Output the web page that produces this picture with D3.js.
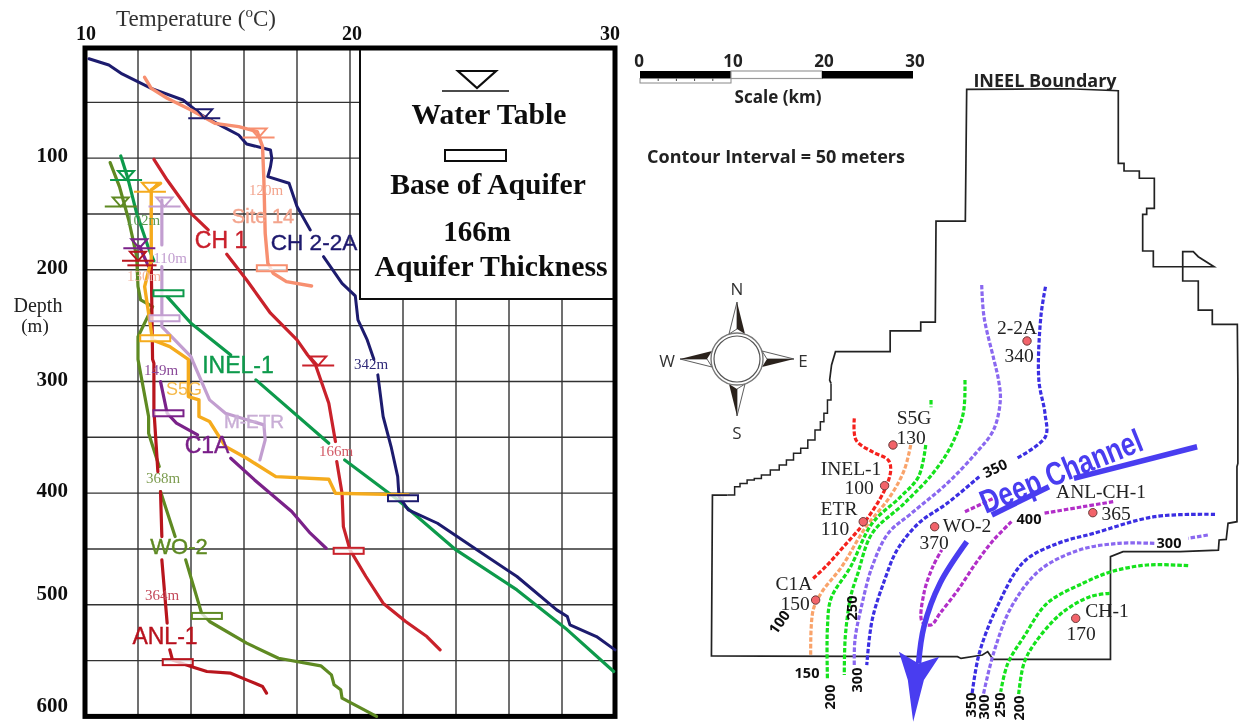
<!DOCTYPE html>
<html><head><meta charset="utf-8">
<script src="https://cdn.jsdelivr.net/npm/d3@7/dist/d3.min.js"></script>
<style>html,body{margin:0;background:#fff}svg{display:block}</style></head>
<body><svg id="c" width="1244" height="723"><defs><filter id="soft" x="0" y="0" width="100%" height="100%"><feGaussianBlur stdDeviation="0.5"/></filter></defs></svg>
<script>
/* ---------- temperature profiles: [temperature degC, depth m], split where the line is broken ---------- */
const depthTicks=[100,200,300,400,500,600];
const depthGrid=[50,100,150,200,250,300,350,400,450,500,550];
const tempLabels=[10,20,30];
const tempGridUpper=[12,14,16,18,20];
const tempGridLower=[12,14,16,18,20,22,24,26,28];
const ch22a=[
[[10.15,11],[10.9,16.6],[11.4,24.6],[12.5,37.5],[13.7,47.9],[14.4,61.3],[15.2,71.8],[15.8,79.3],[16.1,87.3],[17,92.7],[17.05,100.1],[17,107.6],[16.9,116.6],[17.7,122.5],[18,143.4],[18.5,164.3]],
[[19,188.2],[19.7,212.1],[20.2,223.4],[20.3,244.9],[20.65,262.8],[20.9,280.2]],
[[21.05,294.1],[21.25,331.4],[21.55,358.3],[21.8,385.2],[21.85,403.1],[22.2,415],[23.3,427],[24.8,450.9],[26.3,474.7],[27.8,504.6],[28.2,510.5],[28.3,518],[29.3,528.5],[30,540.4]]];
const site14=[[[12.25,27.6],[12.5,37.5],[13.1,46.4],[14,56.9],[14.9,68.8],[15.8,71.8],[16.5,76.3],[16.7,89.7],[16.75,119.5],[16.8,167.3],[16.9,194.2],[17.1,203.1],[17.6,210.6],[18.55,214.5]]];
const ch1=[
[[12.6,101],[13.1,119.6],[14,149.4],[14.65,164.3]],
[[15.35,186.1],[16.1,209.1],[17,238.9],[18,262.8],[18.4,276.3],[18.7,285.2],[19.2,319.5],[19.45,353.8]],
[[19.5,371.7],[19.7,400.1],[19.75,430],[20,450.9],[20.6,474.7],[21.25,498.6],[22.1,515],[22.9,528.5],[23.4,540.4]]];
const inel1=[
[[11.35,98],[11.6,116.6],[11.95,149.4],[12.4,180.7],[12.6,192]],
[[13.1,224],[14,247.9],[15.5,276.3]],
[[16.45,298.6],[19.2,355.3]],
[[19.8,370.3],[21.8,406],[24,450.9],[26.3,486.7],[28.2,522.5],[29.95,559.8]]];
const wo2=[
[[10.95,104],[11.3,125.5],[11.65,155.4],[11.95,188.2],[12,215],[12.1,227],[12.55,233],[12,259.9],[12,280.2],[12.05,286.7],[12.4,331.4],[12.4,346.4],[12.8,376.2]],
[[12.85,398.6],[13.4,438.9]],
[[13.8,459.8],[14.4,507.6],[14.7,515],[16.1,534.4],[17.3,547.9],[18.9,554.7],[19.3,562.8],[19.4,571.7],[19.65,576.2],[19.7,583.7],[21,600]]];
const anl1=[
[[12.5,194.2],[12.55,280.2],[12.6,283.7],[12.6,325.5],[12.75,380.7]],
[[12.85,398.6],[12.9,438.9]],
[[12.9,459.8],[13.1,516.5]],
[[13.2,540.4],[13.3,549.4],[14,555.3],[14.6,559.8],[15.5,561.3],[16.1,567.3],[16.7,573.2],[16.85,579.2]]];
const s5g=[[[12.85,122.5],[12.5,128.5],[12.5,191.2],[12.25,215],[12.55,262.8],[13.2,268.8],[13.9,280.2],[13.9,313.5],[14.3,316.5],[14.3,331.4],[14.7,335.9],[15.3,358.3],[16.1,368.8],[17.2,385.2],[19.2,387.6],[19.45,400.1],[22.2,401.6]]];
const mEtr=[
[[12.9,137.5],[12.9,177.7]],
[[12.9,197.2],[12.9,250.9],[14,277.8],[14.1,283.7],[14.7,316.5],[15.3,328.5],[16.75,338.9],[16.8,352.3],[16.6,370.3]]];
const c1a=[
[[12.05,179],[12.4,197]],
[[12.85,300.1],[13.1,328.5],[13.45,337.4],[14.25,347.9]],
[[15.5,368.8],[16.4,388.2],[17.8,416.5],[18.5,435.9],[19.1,449.4]]];
const waterTableNames=["CH 2-2A","Site 14","INEL-1","S5G","WO-2","M-ETR","C1A","ANL-1","CH 1"];
const waterTableTemp=[14.5,16.55,11.55,12.45,11.35,13,12.05,12,18.8];
const waterTableDepth=[64.3,81.6,119.6,130,143.4,143.4,180.7,192,285.8];
const baseNames=["Site 14","CH 2-2A","INEL-1","M-ETR","S5G","C1A","CH 1","WO-2","ANL-1"];
const baseTemp=[17.05,22,13.15,13,12.65,13.15,19.95,14.6,13.5];
const baseDepth=[198.6,404.6,221,243.4,261.3,328.5,451.7,510,551.4];

/* ---------- map: [km east, km north of the page foot] ---------- */
const scaleKm=[0,10,20,30];
const boundaryMain=[[20.99,37.32],[20.84,37.69],[21.05,39.34],[21.48,40.8],[27.49,40.8],[27.49,43.1],[30.85,43.1],[30.85,44.06],[32.45,44.06],[32.53,55.16],[35.75,55.16],[35.9,69.63],[47,69.7],[52.56,69.48],[52.56,61.5],[53.19,61.5],[53.19,60.66],[54.87,60.66],[54.87,59.86],[56.52,59.86],[56.52,56.56],[55.68,56.56],[55.68,55.9],[55.24,55.9],[55.24,51.87],[56.41,51.87],[56.41,50.14],[63.08,50.14],[61.35,51.24],[60.8,51.79],[59.64,51.79],[59.64,48.57],[61.35,48.57],[61.35,45.38],[62.89,45.38],[62.89,43.81],[65.64,43.81],[65.7,37.69],[65.7,28.53],[65.6,28.17],[65.6,22.12],[64.62,21.94],[64.42,20.18],[63.64,20.11],[63.56,19],[59.36,18.83],[53.08,18.83],[51.7,18.28],[51.7,6.99],[38.8,6.99],[38.21,7.84],[37.63,7.47],[35.28,7.1],[34.89,7.29],[7.85,7.36],[7.96,25.05],[9.61,25.05]];
const boundaryStairs=[[9.61,25.05],[10.4,25.97],[10.99,26.33],[11.77,26.7],[12.56,26.88],[13.34,27.25],[14.32,27.8],[15.3,28.35],[16.09,28.9],[16.87,29.63],[17.66,30.18],[18.44,31.1],[19.23,32.2],[19.82,33.11],[20.21,34.03],[20.6,35.49],[20.99,37.32]];
const c100=[[23.55,33.48],[23.74,31.1],[25.51,29.81],[27.27,28.9],[27.55,27.8],[26.88,25.6],[24.72,22.12],[22.37,19.37],[20.4,17.18],[18.84,15.71]];
const c150=[[29.75,30.55],[29.04,27.8],[27.47,24.87],[24.72,21.39],[22.17,17.18],[20.01,14.43],[19.03,12.42],[18.76,7.29]];
const c200w=[[31.4,30.55],[30.61,27.07],[28.65,24.87],[25.51,21.94],[23.15,17.18],[21,13.7],[20.6,10.58],[20.6,4.72]];
const c200tip=[[31.98,35.49],[31.98,34.69]];
const c250w=[[35.71,37.69],[35.52,34.03],[34.14,30.36],[32.18,27.43],[29.04,24.14],[25.51,20.84],[23.94,16.44],[23.15,13.88],[22.56,9.48],[22.45,5.27]];
const c300w=[[37.55,48.13],[37.8,44.65],[38.9,39.89],[39.4,37.69],[39.6,35.49],[38.85,32.2],[36.89,29.63],[33.75,26.33],[29.82,23.04],[27.27,20.84],[25.51,17.18],[24.33,12.78],[23.62,9.12],[23.55,6.19]];
const c350a=[[44.56,47.94],[44.05,44.65],[43.83,37.69],[44.5,34.03],[44.55,31.46],[41.4,29.08]];
const c350b=[[37.28,27.07],[33.75,24.14],[30.61,21.94],[28.25,19.01],[26.88,15.71],[25.51,11.32],[24.92,6.37]];
const c400a=[[52,24.32],[48.67,23.77],[44.35,23.04]];
const c400b=[[40.82,22.12],[38.85,20.11],[36.89,17.54],[34.93,14.61],[32.97,12.05],[31.98,10.77],[31,11.13],[31.2,14.25],[32.18,17.18],[33.16,19.01]];
const c400c=[[35.71,23.22],[38.85,24.69]];
const c350e=[[63.19,22.93],[56.52,22.67],[49.84,20.84],[45.92,19.74],[42.19,17.73],[39.25,12.78],[37.28,7.65],[36.5,3.26]];
const c300a=[[62.4,20.66],[60.24,20.29]];
const c300e=[[56.52,19.74],[52.59,19.74],[48.27,19.01],[43.95,16.81],[40.82,12.78],[38.85,7.65],[37.68,2.89]];
const c250e=[[60.24,17.29],[55.73,17.36],[51.8,16.63],[48.67,15.35],[44.74,13.15],[42.19,9.48],[40.42,6.55],[39.64,3.44]];
const c200e=[[51.61,14.25],[49.45,13.88],[46.31,12.05],[43.37,8.75],[42.19,6.55],[41.6,3.07]];
const channelA=[[61.22,30.36],[47.68,26.88]];
const channelB=[[44.94,25.97],[38.66,22.85]];
const arrowShaft=[[35.91,19.92],[32.97,15.35],[31.2,10.58],[30.61,6.55]];
const arrowHead=[[28.45,7.84],[30.61,6.55],[32.89,7.29],[31.2,4.72],[30.02,0.14],[29.43,4.72]];
const wellNames=["2-2A","S5G","INEL-1","ETR","WO-2","ANL-CH-1","C1A","CH-1"];
const wellThickness=["340","130","100","110","370","365","150","170"];
const wellE=[42.53,27.8,26.88,24.53,32.38,49.76,19.3,47.88];
const wellN=[41.98,30.55,26.08,22.12,21.57,23.11,13.51,11.5];

/* ---------- scales ---------- */
const svg=d3.select("#c");
const x=d3.scaleLinear().domain([10,30]).range([85,615]);
const y=d3.scaleLinear().domain([0,600]).range([46.5,716.4]);
const mx=d3.scaleLinear().domain([0,30]).range([640,913]);
const my=d3.scaleLinear().domain([0,30]).range([723,450]);
const line=d3.line().x(d=>x(d[0])).y(d=>y(d[1]));
const mline=d3.line().x(d=>mx(d[0])).y(d=>my(d[1])).curve(d3.curveCatmullRom.alpha(.5));
const mpoly=d3.line().x(d=>mx(d[0])).y(d=>my(d[1]));
const serif="'Liberation Serif',serif", sans="'Liberation Sans',sans-serif", open="'Open Sans',sans-serif";
const root=svg.append("g").attr("filter","url(#soft)");
root.append("rect").attr("width",1244).attr("height",723).attr("fill","#fff");
function txt(g,s,px,py,size,o={}){
  const t=g.append("text").attr("x",px).attr("y",py).attr("font-size",size)
   .attr("font-family",o.font||serif).attr("font-weight",o.weight||"normal")
   .attr("fill",o.fill||"#111").attr("text-anchor",o.anchor||"middle").attr("dominant-baseline","central").text(s);
  if(o.rot!=null)t.attr("transform",`rotate(${o.rot} ${px} ${py})`);
  if(o.stroke)t.attr("stroke",o.fill).attr("stroke-width",o.stroke);
  if(o.len)t.attr("textLength",o.len).attr("lengthAdjust","spacingAndGlyphs");
  return t;
}

/* ---------- left panel ---------- */
const L=root.append("g");
const grid=L.append("g").attr("stroke","#333").attr("stroke-width",1.4);
grid.selectAll(".h").data(depthGrid).join("line").attr("x1",x(10)).attr("x2",d=>d<250?360:x(30)).attr("y1",y).attr("y2",y);
grid.selectAll(".vu").data(tempGridUpper).join("line").attr("x1",x).attr("x2",x).attr("y1",y(1)).attr("y2",y(600));
grid.selectAll(".vl").data(tempGridLower.filter(d=>d>20)).join("line").attr("x1",x).attr("x2",x).attr("y1",299).attr("y2",y(600));
L.append("rect").attr("x",360).attr("y",48).attr("width",x(30)-360).attr("height",251).attr("fill","#fff").attr("stroke","#111").attr("stroke-width",2);
L.append("rect").attr("x",x(10)).attr("y",48).attr("width",x(30)-x(10)).attr("height",y(600)-48).attr("fill","none").attr("stroke","#000").attr("stroke-width",5);

const profiles=[[inel1,"#0e9a4c",3.2],[wo2,"#5e8a23",3.2],[anl1,"#b8121f",3.2],[c1a,"#7a2089",3.2],[mEtr,"#c29ed0",3.2],[ch1,"#c9202c",3.2],[ch22a,"#1f1a6e",3],[site14,"#f78f6f",3.4],[s5g,"#f5ab1f",3.4]];
const colorOf={"CH 2-2A":"#1f1a6e","Site 14":"#f78f6f","INEL-1":"#0e9a4c","S5G":"#f5ab1f","WO-2":"#5e8a23","M-ETR":"#c29ed0","C1A":"#7a2089","ANL-1":"#b8121f","CH 1":"#c9202c"};
profiles.forEach(([segs,col,w])=>{
  L.append("g").selectAll("path").data(segs).join("path").attr("d",line).attr("fill","none").attr("stroke",col).attr("stroke-width",w).attr("stroke-linejoin","round").attr("stroke-linecap","round");
});
const wt=L.append("g").attr("fill","none").attr("stroke-width",2);
waterTableNames.forEach((n,i)=>{
  const px=x(waterTableTemp[i]),py=y(waterTableDepth[i]);
  wt.append("path").attr("stroke",colorOf[n]).attr("d",`M${px-16},${py}H${px+16}M${px-8},${py-9}H${px+8}L${px},${py}Z`);
});
const bs=L.append("g").attr("fill","#fff").attr("fill-opacity",.75).attr("stroke-width",2);
baseNames.forEach((n,i)=>{
  bs.append("rect").attr("stroke",colorOf[n]).attr("x",x(baseTemp[i])-15).attr("y",y(baseDepth[i])-3).attr("width",30).attr("height",6);
});
L.append("path").attr("d",`M${x(11.6)},${y(196)}H${x(12.7)}`).attr("stroke","#b8121f").attr("stroke-width",2);

const T=txt(L,"",196,18,23,{fill:"#333"});
T.append("tspan").text("Temperature (");
T.append("tspan").attr("dy",-6).attr("font-size",15).text("o");
T.append("tspan").attr("dy",6).text("C)");
[86,352,610].forEach((px,i)=>txt(L,tempLabels[i],px,33,20,{weight:"bold"}));
const yAxis=d3.axisLeft(y).tickValues(depthTicks).tickSize(0).tickPadding(0);
const ax=L.append("g").attr("transform","translate(68,-3)").call(yAxis);
ax.select(".domain").remove();
ax.selectAll("text").attr("font-family",serif).attr("font-weight","bold").attr("font-size",21).attr("fill","#111");
ax.selectAll(".tick").filter(d=>d>=500).select("text").attr("dy","-0.1em");
txt(L,"Depth",38,305,20,{fill:"#222"});
txt(L,"(m)",35,325,19,{fill:"#222"});
/* legend */
L.append("path").attr("d","M458,71H496L477,88Z").attr("fill","none").attr("stroke","#111").attr("stroke-width",2.2);
L.append("path").attr("d","M442,91H509").attr("stroke","#111").attr("stroke-width",1.6);
L.append("rect").attr("x",445).attr("y",150).attr("width",61).attr("height",11).attr("fill","#fff").attr("stroke","#111").attr("stroke-width",2);
txt(L,"Water Table",489,114,29.6,{weight:"bold"});
txt(L,"Base of Aquifer",488,184,29.6,{weight:"bold"});
txt(L,"166m",477,231,29,{weight:"bold"});
txt(L,"Aquifer Thickness",491,265,29.8,{weight:"bold"});
/* curve names */
[["CH 1",221,240,colorOf["CH 1"],23],["CH 2-2A",314,242,colorOf["CH 2-2A"],22.6],["Site 14",263,216,"#f3a48d",20],["INEL-1",238,365,colorOf["INEL-1"],23],["M-ETR",254,421,"#c9aed6",19],["C1A",207,445,colorOf["C1A"],23],["WO-2",179,546,colorOf["WO-2"],22],["ANL-1",165,636,colorOf["ANL-1"],23]]
 .forEach(d=>txt(L,d[0],d[1],d[2],d[4],{font:sans,fill:d[3],stroke:.4}));
txt(L,"S5G",184,389,18,{font:sans,fill:"#f5b94a"});
[["120m",266,190,"#f3a48d"],["102m",143,220,"#5e9a52"],["110m",170,258,"#c29ed0"],["130m",144,276,"#f3b7a3"],["149m",161,370,"#8a4a99"],["342m",371,364,"#2f2a78"],["166m",336,451,"#d25a66"],["368m",163,478,"#7d9c50"],["364m",162,595,"#c44a5a"]]
 .forEach(d=>txt(L,d[0],d[1],d[2],15,{fill:d[3]}));

/* ---------- right panel ---------- */
const M=root.append("g");
/* scale bar */
const barY=71;
M.append("rect").attr("x",mx(0)).attr("y",barY).attr("width",mx(10)-mx(0)).attr("height",7.5).attr("fill","#000");
M.append("rect").attr("x",mx(10)).attr("y",barY).attr("width",mx(20)-mx(10)).attr("height",7.5).attr("fill","#fff").attr("stroke","#999").attr("stroke-width",1.2);
M.append("rect").attr("x",mx(20)).attr("y",barY).attr("width",mx(30)-mx(20)).attr("height",7.5).attr("fill","#000");
M.append("rect").attr("x",mx(0)).attr("y",barY+7.5).attr("width",mx(10)-mx(0)).attr("height",4.5).attr("fill","#fff").attr("stroke","#888").attr("stroke-width",1);
M.append("g").selectAll("line").data([2,4,6,8]).join("line").attr("x1",mx).attr("x2",mx).attr("y1",barY+7.5).attr("y2",barY+10).attr("stroke","#444");
scaleKm.forEach(v=>txt(M,v,mx(v)+(v?2:-1),60,17,{font:open,weight:"bold",fill:"#222"}));
txt(M,"Scale (km)",778,96,17,{font:open,weight:"bold",fill:"#222"});
txt(M,"Contour Interval = 50 meters",776,156,18,{font:open,weight:"bold",fill:"#222"});
txt(M,"INEEL Boundary",1045,80,18,{font:open,weight:"bold",fill:"#222"});
/* compass */
const cx=mx(10.66),cy=my(40);
const C=M.append("g").attr("transform",`translate(${cx},${cy})`);
[0,90,180,270].forEach(r=>{
  const a=C.append("g").attr("transform",`rotate(${r})`);
  a.append("path").attr("d","M0,-57L-8,-25L0,-30Z").attr("fill","#fff").attr("stroke","#333").attr("stroke-width",.8);
  a.append("path").attr("d","M0,-57L8,-25L0,-30Z").attr("fill","#2a211d");
});
C.append("circle").attr("r",26).attr("fill","#fff").attr("stroke","#777").attr("stroke-width",1.4);
C.append("circle").attr("r",23).attr("fill","#fff").attr("stroke","#555").attr("stroke-width",1.2);
txt(C,"N",0,-71,17,{font:open,fill:"#333"});
txt(C,"S",0,73,17,{font:open,fill:"#333"});
txt(C,"W",-70,1,17,{font:open,fill:"#333"});
txt(C,"E",66,1,17,{font:open,fill:"#333"});
/* boundary */
M.append("path").attr("d",mpoly(boundaryMain)).attr("fill","none").attr("stroke","#222").attr("stroke-width",1.7);
M.append("path").attr("d",d3.line().x(d=>mx(d[0])).y(d=>my(d[1])).curve(d3.curveStepAfter)(boundaryStairs)).attr("fill","none").attr("stroke","#222").attr("stroke-width",1.5);
/* contours */
const red="#f5211f",ora="#f9a36b",grn="#12e21c",vio="#8a68f0",blu="#3a2ee2",mag="#b22fc8";
const contours=[[c100,red],[c150,ora],[c200w,grn],[c200tip,grn],[c250w,grn],[c300w,vio],[c350a,blu],[c350b,blu],[c400a,mag],[c400b,mag],[c400c,mag],[c350e,blu],[c300a,vio],[c300e,vio],[c250e,grn],[c200e,grn]];
contours.forEach(([d,col])=>M.append("path").attr("d",mline(d)).attr("fill","none").attr("stroke",col).attr("stroke-width",3.2).attr("stroke-dasharray","4.5 2"));
/* deep channel */
const chan="#4a3df0";
M.append("path").attr("d",mpoly(channelA)).attr("stroke",chan).attr("stroke-width",5.5).attr("fill","none");
M.append("path").attr("d",mpoly(channelB)).attr("stroke",chan).attr("stroke-width",5.5).attr("fill","none");
M.append("path").attr("d",mline(arrowShaft)).attr("stroke",chan).attr("stroke-width",5.5).attr("fill","none");
M.append("path").attr("d",mpoly(arrowHead)+"Z").attr("fill",chan);
txt(M,"Deep Channel",1061,471,33,{font:sans,weight:"bold",fill:chan,rot:-22,len:172});
/* wells */
M.append("g").selectAll("circle").data(wellE).join("circle").attr("cx",d=>mx(d)).attr("cy",(d,i)=>my(wellN[i])).attr("r",4.2).attr("fill","#f2646a").attr("stroke","#6a3a3a").attr("stroke-width",1);
const nameXY=[[1017,327],[914,417],[851,468],[839,508],[967,525],[1101,491],[794,583],[1107,610]];
const valXY=[[1019,355],[911,437],[859,487],[835,528],[934,542],[1116,513],[795,603],[1081,633]];
wellNames.forEach((n,i)=>{
  txt(M,n,nameXY[i][0],nameXY[i][1],19.5,{fill:"#222"});
  txt(M,wellThickness[i],valXY[i][0],valXY[i][1],19.5,{fill:"#222"});
});
/* contour labels */
const contourLabels=["350","400","300","100","250","150","200","300","350","300","250","200"];
const contourLabelXY=[[995,468,-25],[1029,518,0],[1169,542,0],[779,622,-55],[851,608,-90],[807,672,0],[829,697,-90],[856,680,-90],[970,705,-90],[983,707,-90],[999,705,-90],[1018,708,-90]];
contourLabels.forEach((s,i)=>{const p=contourLabelXY[i];txt(M,s,p[0],p[1],14.5,{font:open,weight:"bold",fill:"#111",rot:p[2]});});
</script></body></html>
